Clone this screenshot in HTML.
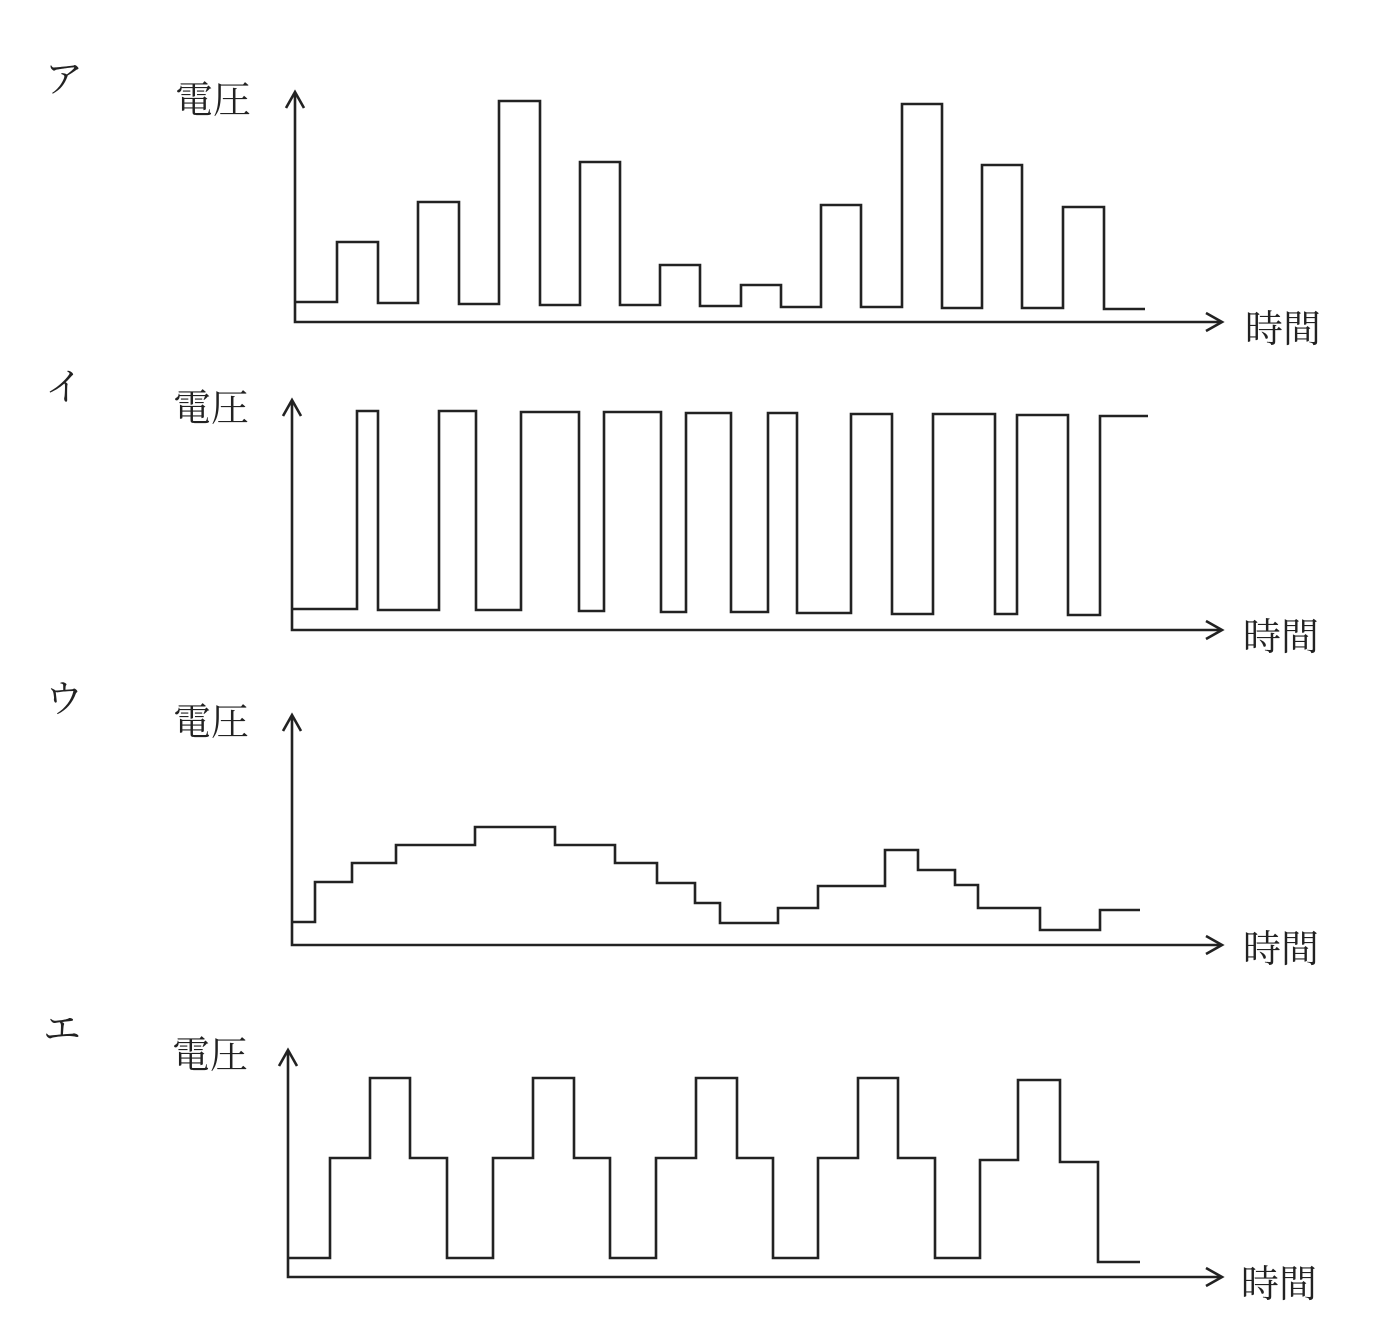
<!DOCTYPE html>
<html><head><meta charset="utf-8"><style>
html,body{margin:0;padding:0;background:#fff;}
svg{display:block;}
text{font-family:"Liberation Serif","Noto Serif CJK SC",serif;fill:#222;}
</style></head><body>
<svg width="1390" height="1342" viewBox="0 0 1390 1342" xmlns="http://www.w3.org/2000/svg">
<g fill="none" stroke="#222" stroke-width="2.6" stroke-linejoin="miter">
<!-- ア -->
<path d="M295 92 V322 H1222"/>
<path d="M286 108 L295 92 L304 108"/>
<path d="M1206 313 L1222 322 L1206 331"/>
<path d="M295 302 H337 V242 H378 V303 H418 V202 H459 V304 H499 V101 H540 V305 H580 V162 H620 V305 H660 V265 H700 V306 H741 V285 H781 V307 H821 V205 H861 V307 H902 V104 H942 V308 H982 V165 H1022 V308 H1063 V207 H1104 V309 H1145"/>
<!-- イ -->
<path d="M292 400 V630 H1222"/>
<path d="M283 416 L292 400 L301 416"/>
<path d="M1206 621 L1222 630 L1206 639"/>
<path d="M292 609 H357 V411 H378 V610 H439 V411 H476 V610 H521 V412 H579 V611 H604 V412 H661 V612 H686 V413 H731 V612 H768 V413 H797 V613 H851 V414 H892 V614 H933 V414 H995 V614 H1017 V415 H1068 V615 H1100 V416 H1148"/>
<!-- ウ -->
<path d="M292 715 V945 H1222"/>
<path d="M283 731 L292 715 L301 731"/>
<path d="M1206 936 L1222 945 L1206 954"/>
<path d="M292 922 H315 V882 H352 V863 H396 V845 H475 V827 H555 V845 H615 V863 H657 V883 H695 V903 H720 V923 H778 V908 H818 V886 H885 V850 H918 V870 H955 V885 H978 V908 H1040 V930 H1100 V910 H1140"/>
<!-- エ -->
<path d="M288 1050 V1277 H1222"/>
<path d="M279 1066 L288 1050 L297 1066"/>
<path d="M1206 1268 L1222 1277 L1206 1286"/>
<path d="M288 1258 H330 V1158 H370 V1078 H410 V1158 H447 V1258 H493 V1158 H533 V1078 H574 V1158 H610 V1258 H656 V1158 H696 V1078 H737 V1158 H773 V1258 H818 V1158 H858 V1078 H898 V1158 H935 V1258 H980 V1160 H1018 V1080 H1060 V1162 H1098 V1262 H1140"/>
</g>
<g font-size="38">
<text x="45" y="92">ア</text>
<text x="45" y="400">イ</text>
<text x="45" y="712">ウ</text>
<text x="43" y="1042">エ</text>
<text x="175" y="113">電圧</text>
<text x="173" y="421">電圧</text>
<text x="173" y="735">電圧</text>
<text x="172" y="1068">電圧</text>
<text x="1245" y="342">時間</text>
<text x="1243" y="650">時間</text>
<text x="1243" y="962">時間</text>
<text x="1241" y="1297">時間</text>
</g>
</svg>
</body></html>
